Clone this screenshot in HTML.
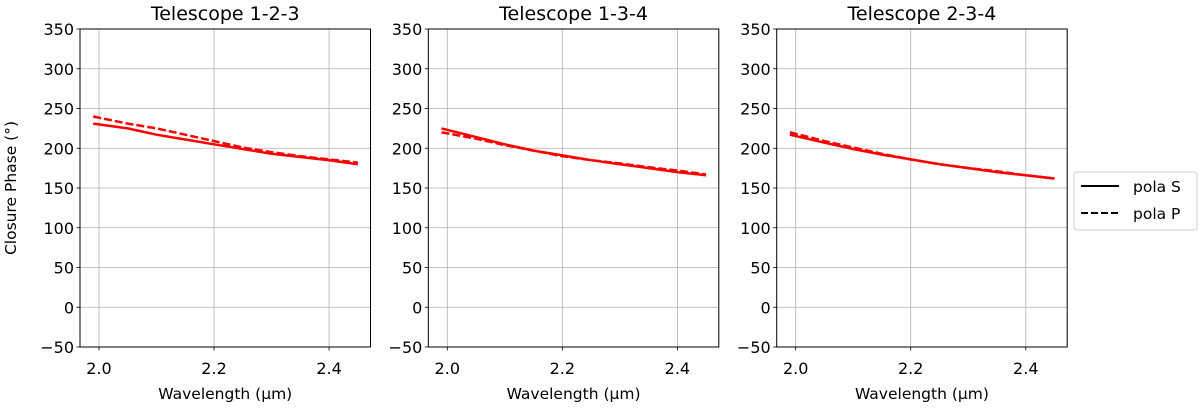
<!DOCTYPE html>
<html><head><meta charset="utf-8"><style>
body{margin:0;background:#fff}
svg text{font-family:"DejaVu Sans","Liberation Sans",sans-serif;fill:#000}
</style></head><body>
<svg id="chart" width="1200" height="406" viewBox="0 0 1200 406" xmlns="http://www.w3.org/2000/svg"></svg>
<script>
const titles = ["Telescope 1-2-3","Telescope 1-3-4","Telescope 2-3-4"];
const wavelengths = [1.99,2.05,2.1,2.15,2.2,2.25,2.3,2.35,2.4,2.45];
const polaS1 = [231,225,217,211,205,199,193,189,185,180];
const polaP1 = [240,231,225,217,209,201,195,190,186,182];
const polaS2 = [225,214,205,197,191,185,180,175,170,166];
const polaP2 = [220,212,204,197,190,185,181,176,172,167];
const polaS3 = [217,207,199,192,186,180,175,170,166,162];
const polaP3 = [220,209,201,193,186,180,175,171,166,162];
const yTicks = [-50,0,50,100,150,200,250,300,350];
const xTicks = [2.0,2.2,2.4];
const seriesS = [polaS1,polaS2,polaS3];
const seriesP = [polaP1,polaP2,polaP3];

const NS="http://www.w3.org/2000/svg";
const svg=document.getElementById('chart');
function mk(tag,attrs,parent){const e=document.createElementNS(NS,tag);for(const k in attrs)e.setAttribute(k,attrs[k]);(parent||svg).appendChild(e);return e;}
const plotTop=29,plotBottom=347,W=290.5,xmin=1.967,xmax=2.472,ymin=-50,ymax=350;
const lefts=[80,428.3,776.7];
lefts.forEach((L,i)=>{
  const g=mk('g',{});
  
  
  const xs=v=>L+(v-xmin)/(xmax-xmin)*W;
  const ys=v=>plotBottom-(v-ymin)/(ymax-ymin)*(plotBottom-plotTop);
  yTicks.forEach(t=>{
    const y=ys(t);
    const gl=mk('line',{x1:L,x2:L+W,y1:y,y2:y,stroke:'#b0b0b0','stroke-width':0.8},g);
    
    
    mk('line',{x1:L-3.5,x2:L,y1:y,y2:y,stroke:'#000','stroke-width':0.8},g);
    const tx=mk('text',{x:L-6,y:y+6,'text-anchor':'end','font-size':16},g);
    tx.textContent=t<0?'\u2212'+Math.abs(t):String(t);
    
    
  });
  xTicks.forEach(t=>{
    const x=xs(t);
    const gl=mk('line',{x1:x,x2:x,y1:plotTop,y2:plotBottom,stroke:'#b0b0b0','stroke-width':0.8},g);
    
    
    mk('line',{x1:x,x2:x,y1:plotBottom,y2:plotBottom+3.5,stroke:'#000','stroke-width':0.8},g);
    const tx=mk('text',{x:x,y:plotBottom+27,'text-anchor':'middle','font-size':16},g);
    tx.textContent=t.toFixed(1);
    
    
  });
  const pts=a=>a.map((v,j)=>xs(wavelengths[j]).toFixed(1)+','+ys(v).toFixed(1)).join(' ');
  const pl=mk('polyline',{points:pts(seriesS[i]),fill:'none',stroke:'#ff0000','stroke-width':2.5},g);
  
  
  const pp=mk('polyline',{points:pts(seriesP[i]),fill:'none',stroke:'#ff0000','stroke-width':2.5,'stroke-dasharray':'8,3'},g);
  
  
  const fr=mk('rect',{x:L,y:plotTop,width:W,height:plotBottom-plotTop,fill:'none',stroke:'#000','stroke-width':1},g);
  
  
  const ti=mk('text',{x:L+W/2,y:20,'text-anchor':'middle','font-size':19},g);
  ti.textContent=titles[i];
  
  
  const xl=mk('text',{x:L+W/2,y:399,'text-anchor':'middle','font-size':15.5},g);
  xl.textContent='Wavelength (\u03BCm)';
  
  
});
const yl=mk('text',{x:0,y:0,'text-anchor':'middle','font-size':15.5,transform:'translate(16,188) rotate(-90)'});
yl.textContent='Closure Phase (\u00B0)';


const lg=mk('g',{});


mk('rect',{x:1074,y:172,width:123,height:58,rx:3,fill:'#fff',stroke:'#d0d0d0','stroke-width':1},lg);
mk('line',{x1:1081,x2:1119,y1:186,y2:186,stroke:'#000','stroke-width':2},lg);
mk('line',{x1:1081,x2:1119,y1:213,y2:213,stroke:'#000','stroke-width':2,'stroke-dasharray':'7,3'},lg);
const l1=mk('text',{x:1133,y:192,'font-size':15.5},lg);l1.textContent='pola S';


const l2=mk('text',{x:1133,y:219,'font-size':15.5},lg);l2.textContent='pola P';


</script>
</body></html>
